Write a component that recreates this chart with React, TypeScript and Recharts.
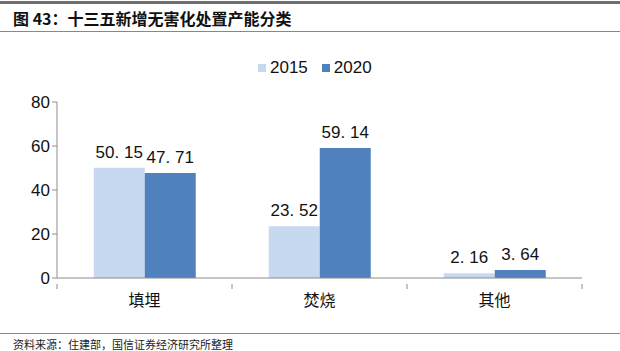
import React from 'react';
import { BarChart, Bar, XAxis, YAxis, LabelList } from 'recharts';

const categories = ['填埋', '焚烧', '其他'];
const values2015 = [50.15, 23.52, 2.16];
const values2020 = [47.71, 59.14, 3.64];
const yTicks = [0, 20, 40, 60, 80];

const data = categories.map((name, i) => ({ name, v2015: values2015[i], v2020: values2020[i] }));

const LIGHT = '#C6D9F1';
const DARK = '#4F81BD';
const AXIS = '#8c8c8c';

const W = 620;
const H = 351;
const MARGIN = { top: 102, right: 38, bottom: 43, left: 0 };
const Y_WIDTH = 57;
const BAND = (W - MARGIN.right - MARGIN.left - Y_WIDTH) / categories.length;

// labels in the source use a spaced decimal point, e.g. "50. 15"
const fmt = (v: number) => v.toFixed(2).replace('.', '. ');

const BarLabel = (props: any) => {
  const { x, y, width, value } = props;
  return (
    <text x={x + width / 2} y={y - 10} textAnchor="middle" fill="#111" fontSize={17}
      fontFamily="'Liberation Sans', Arial, sans-serif">
      {fmt(value)}
    </text>
  );
};

// category axis: label at band centre, small tick marks at band edges
const CatTick = (props: any) => {
  const { x, y, payload, index } = props;
  const axisY = y - 10;
  return (
    <g>
      <line x1={x - BAND / 2} x2={x - BAND / 2} y1={axisY} y2={axisY + 5} stroke={AXIS} />
      {index === categories.length - 1 && (
        <line x1={x + BAND / 2} x2={x + BAND / 2} y1={axisY} y2={axisY + 5} stroke={AXIS} />
      )}
      <text x={x} y={y + 12} textAnchor="middle" fill="#111" fontSize={16}
        fontFamily="'Noto Sans CJK SC', sans-serif">
        {payload.value}
      </text>
    </g>
  );
};

export default function App() {
  return (
    <div style={{ position: 'fixed', left: 0, top: 0, width: W, height: H, background: '#fff', overflow: 'hidden' }}>
      <div style={{ position: 'absolute', left: 0, top: 1, width: W, height: 3, background: '#6e6e6e' }} />
      <div style={{
        position: 'absolute', left: 13, top: 6, fontSize: 16, fontWeight: 700, color: '#111',
        fontFamily: "'Noto Sans CJK SC', sans-serif", whiteSpace: 'nowrap'
      }}>
        图 43：十三五新增无害化处置产能分类
      </div>
      <div style={{ position: 'absolute', left: 0, top: 31, width: W, height: 1, background: '#888' }} />

      <div style={{
        position: 'absolute', left: 258, top: 58, display: 'flex', alignItems: 'center',
        fontSize: 17, fontFamily: "'Liberation Sans', Arial, sans-serif", color: '#111'
      }}>
        <span style={{ width: 8, height: 8, background: LIGHT, marginRight: 4 }} />
        <span style={{ marginRight: 14 }}>2015</span>
        <span style={{ width: 8, height: 8, background: DARK, marginRight: 4 }} />
        <span>2020</span>
      </div>

      <div style={{ position: 'absolute', left: 0, top: 0 }}>
        <BarChart width={W} height={H} data={data} margin={MARGIN}
          barCategoryGap="21%" barGap={0}>
          <XAxis dataKey="name" tickLine={false} axisLine={{ stroke: AXIS }} height={30}
            interval={0} tick={<CatTick />} tickMargin={10} />
          <YAxis domain={[0, 80]} ticks={yTicks} width={Y_WIDTH} interval={0}
            axisLine={{ stroke: AXIS }} tickLine={{ stroke: AXIS }} tickSize={5}
            tick={{ fontSize: 17, fill: '#111', fontFamily: "'Liberation Sans', Arial, sans-serif" }} />
          <Bar dataKey="v2015" fill={LIGHT} isAnimationActive={false}>
            <LabelList dataKey="v2015" content={<BarLabel />} />
          </Bar>
          <Bar dataKey="v2020" fill={DARK} isAnimationActive={false}>
            <LabelList dataKey="v2020" content={<BarLabel />} />
          </Bar>
        </BarChart>
      </div>

      <div style={{ position: 'absolute', left: 0, top: 333, width: W, height: 1, background: '#888' }} />
      <div style={{
        position: 'absolute', left: 13, top: 336, fontSize: 11, color: '#222',
        fontFamily: "'Noto Sans CJK SC', serif", whiteSpace: 'nowrap'
      }}>
        资料来源：住建部，国信证券经济研究所整理
      </div>
    </div>
  );
}
